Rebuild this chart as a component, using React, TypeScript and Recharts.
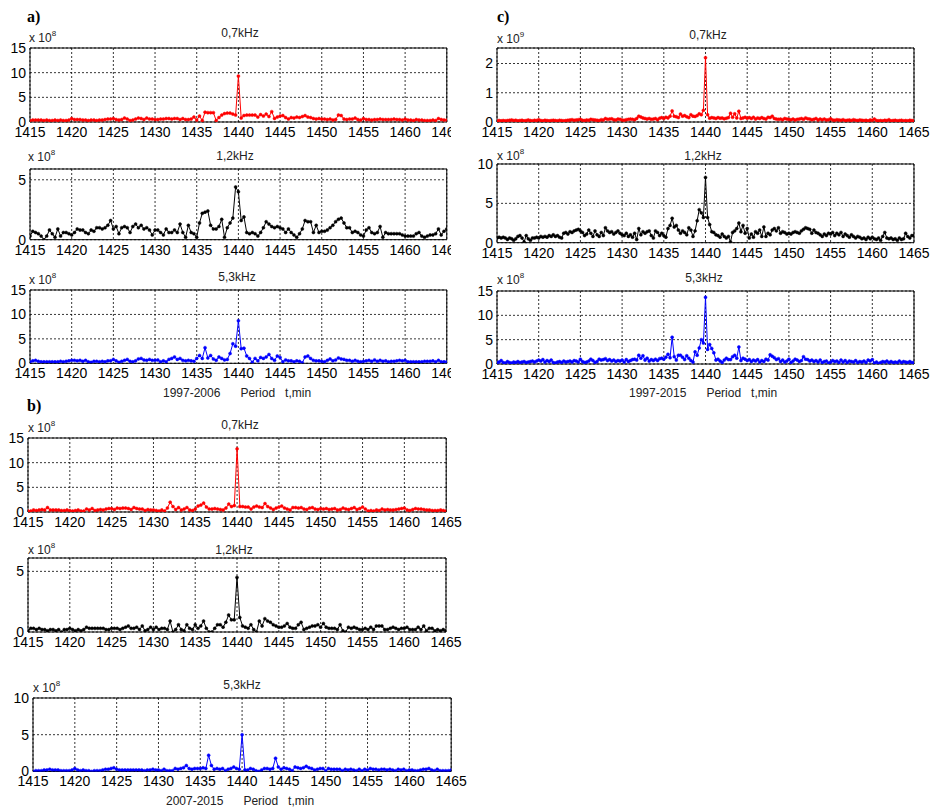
import React from "react";
import { LineChart, Line, XAxis, YAxis, CartesianGrid, ReferenceLine } from "recharts";

const FONT = "'Liberation Sans', Arial, sans-serif";

// x axis: period in minutes
const periodTicks = [1415, 1420, 1425, 1430, 1435, 1440, 1445, 1450, 1455, 1460, 1465];

// ---- a) 1997-2006, values in 1e8 (3 points per minute)
const a07 = [
  0.3, 0.4, 0.4, 0.4, 0.4, 0.3, 0.4, 0.3, 0.3, 0.4, 0.3, 0.4, 0.3, 0.3, 0.4,
  0.7, 0.5, 0.5, 0.5, 0.4, 0.4, 0.3, 0.4, 0.4, 0.3, 0.4, 0.4, 0.5, 0.6, 0.6,
  0.7, 0.5, 0.4, 0.5, 0.8, 0.6, 0.3, 0.4, 0.6, 0.8, 0.7, 0.5, 0.8, 0.6, 0.6,
  0.5, 0.5, 0.6, 0.6, 0.7, 0.7, 0.6, 0.7, 0.7, 0.5, 0.7, 0.5, 0.5, 0.6, 1.0,
  0.4, 1.2, 0.3, 2.0, 1.9, 1.9, 1.9, 0.3, 0.9, 1.4, 1.7, 1.8, 1.8, 1.6, 1.4,
  9.3, 0.8, 1.3, 1.4, 1.4, 1.4, 1.4, 1.0, 1.5, 1.2, 1.6, 1.1, 2.1, 0.7, 1.0,
  1.2, 1.3, 0.9, 0.6, 0.9, 0.8, 1.0, 0.9, 1.1, 1.3, 1.0, 0.9, 0.7, 0.6, 0.7,
  0.6, 0.6, 0.5, 0.6, 0.4, 0.5, 1.4, 1.3, 0.6, 0.5, 0.6, 0.6, 0.8, 0.5, 0.4,
  0.7, 0.5, 0.5, 0.4, 0.5, 0.5, 0.6, 0.5, 0.5, 0.5, 0.5, 0.6, 0.5, 0.5, 0.4,
  0.6, 0.4, 0.4, 0.3, 0.5, 0.4, 0.4, 0.3, 0.3, 0.3, 0.4, 0.3, 0.7, 0.5, 0.4,
  0.4,
];
const a12 = [
  0.3, 0.7, 0.6, 0.5, 0.3, 0.0, 0.3, 0.8, 0.5, 0.2, 0.9, 0.3, 0.6, 0.6, 0.5,
  0.4, 0.6, 0.9, 0.8, 0.8, 0.6, 0.5, 0.8, 0.7, 1.0, 1.0, 0.9, 1.0, 1.2, 1.6,
  0.9, 1.1, 0.5, 1.0, 1.1, 1.0, 0.6, 1.1, 1.3, 1.0, 1.2, 0.9, 1.0, 0.8, 0.4,
  0.8, 0.8, 0.6, 0.4, 0.9, 0.6, 0.6, 0.8, 0.6, 1.3, 0.6, 0.2, 1.2, 0.6, 0.5,
  0.2, 1.4, 2.2, 2.3, 2.4, 1.2, 0.9, 0.9, 1.1, 1.7, 0.2, 1.0, 1.4, 1.8, 4.4,
  4.0, 1.6, 1.9, 0.6, 0.5, 0.6, 0.5, 0.3, 0.6, 1.0, 1.5, 1.3, 1.1, 1.0, 1.1,
  1.0, 0.9, 0.6, 0.9, 0.6, 0.4, 0.2, 0.5, 0.9, 1.6, 1.5, 1.5, 0.6, 1.2, 0.6,
  0.7, 0.7, 0.8, 1.0, 1.2, 1.5, 1.7, 1.8, 1.4, 1.0, 1.0, 0.6, 0.7, 0.6, 0.4,
  0.3, 0.8, 1.0, 0.6, 0.5, 0.6, 1.1, 0.2, 0.6, 0.5, 0.5, 0.5, 0.5, 0.5, 0.4,
  0.3, 0.3, 0.3, 0.3, 0.5, 0.6, 0.3, 0.2, 0.3, 0.4, 0.4, 0.5, 0.9, 0.4, 0.7,
  0.9,
];
const a53 = [
  0.3, 0.5, 0.6, 0.4, 0.3, 0.3, 0.3, 0.3, 0.3, 0.3, 0.3, 0.4, 0.3, 0.4, 0.5,
  0.6, 0.6, 0.5, 0.6, 0.4, 0.6, 0.3, 0.2, 0.4, 0.4, 0.3, 0.4, 0.3, 0.5, 0.5,
  0.8, 0.5, 0.2, 0.4, 0.6, 0.8, 0.4, 0.3, 0.5, 0.9, 1.0, 0.7, 0.6, 0.8, 0.6,
  0.6, 0.7, 0.3, 0.5, 0.3, 0.8, 1.0, 1.3, 0.8, 1.0, 0.6, 0.5, 0.6, 0.5, 0.4,
  1.0, 1.6, 1.0, 3.2, 1.1, 1.6, 0.9, 0.6, 1.3, 1.0, 0.7, 0.8, 2.0, 4.0, 3.5,
  8.7, 3.0, 3.1, 1.5, 1.0, 0.2, 1.0, 0.5, 1.2, 1.0, 1.3, 1.8, 1.0, 0.6, 1.5,
  1.2, 0.3, 0.7, 0.5, 0.5, 0.3, 0.5, 0.4, 0.1, 1.3, 1.5, 1.0, 0.6, 0.5, 0.5,
  0.4, 0.3, 0.6, 0.9, 0.5, 0.7, 1.1, 0.9, 0.8, 0.6, 0.6, 0.4, 0.6, 0.4, 0.3,
  0.4, 0.5, 0.6, 0.4, 0.7, 0.4, 0.6, 0.4, 0.5, 0.3, 0.4, 0.4, 0.5, 0.6, 0.5,
  0.6, 0.3, 0.3, 0.3, 0.3, 0.3, 0.3, 0.4, 0.4, 0.4, 0.5, 0.3, 0.6, 0.3, 0.3,
  0.3,
];

// ---- b) 2007-2015, values in 1e8
const b07 = [
  0.2, 0.2, 0.4, 0.3, 0.4, 0.5, 0.4, 0.9, 0.4, 0.4, 0.4, 0.4, 0.3, 0.3, 0.4,
  0.3, 0.2, 0.3, 0.4, 0.2, 0.2, 0.6, 0.4, 0.7, 0.3, 0.4, 0.5, 0.4, 0.6, 0.7,
  0.7, 0.5, 0.8, 0.7, 0.8, 0.8, 0.7, 0.5, 0.9, 0.7, 0.6, 0.6, 0.3, 0.5, 0.4,
  0.4, 0.3, 0.2, 0.4, 0.2, 0.8, 2.0, 1.1, 0.5, 0.9, 0.4, 0.6, 0.9, 0.4, 0.3,
  0.6, 1.2, 1.4, 1.8, 1.0, 0.6, 0.6, 0.7, 0.6, 0.5, 0.4, 0.8, 1.6, 1.1, 1.3,
  12.8, 1.1, 1.1, 1.0, 1.0, 0.6, 1.0, 1.2, 1.0, 0.9, 1.7, 1.1, 0.8, 0.5, 0.8,
  1.0, 1.2, 0.8, 0.6, 0.4, 0.9, 0.9, 0.8, 0.9, 0.6, 0.5, 0.8, 0.9, 0.6, 0.5,
  0.7, 0.6, 0.7, 0.5, 0.6, 0.7, 0.4, 0.5, 0.8, 0.6, 0.5, 0.7, 0.9, 0.5, 0.7,
  1.0, 0.6, 0.2, 0.3, 0.2, 0.4, 0.3, 0.6, 0.4, 0.5, 0.4, 0.4, 0.5, 0.6, 0.7,
  0.8, 0.4, 0.3, 0.5, 0.7, 0.6, 0.6, 0.5, 0.4, 0.4, 0.3, 0.3, 0.3, 0.4, 0.3,
  0.2,
];
const b12 = [
  0.1, 0.3, 0.3, 0.2, 0.3, 0.2, 0.2, 0.1, 0.2, 0.2, 0.1, 0.2, 0.0, 0.2, 0.2,
  0.3, 0.2, 0.1, 0.2, 0.1, 0.2, 0.4, 0.3, 0.3, 0.3, 0.3, 0.3, 0.3, 0.2, 0.2,
  0.3, 0.3, 0.3, 0.2, 0.3, 0.4, 0.5, 0.3, 0.3, 0.4, 0.2, 0.5, 0.1, 0.2, 0.4,
  0.2, 0.4, 0.2, 0.3, 0.3, 0.2, 0.9, 0.0, 0.2, 0.6, 0.2, 0.1, 0.6, 0.3, 0.2,
  0.6, 0.3, 0.5, 0.9, 0.3, 0.0, 0.0, 0.3, 0.6, 0.6, 0.4, 0.8, 1.4, 1.0, 1.0,
  4.5, 1.2, 0.5, 0.4, 0.3, 0.6, 0.2, 0.0, 0.9, 0.5, 1.1, 0.9, 0.8, 0.6, 0.5,
  0.4, 0.4, 0.5, 0.7, 0.4, 0.3, 0.3, 0.6, 0.8, 0.2, 0.3, 0.4, 0.5, 0.5, 0.6,
  0.4, 0.7, 0.4, 0.3, 0.3, 0.3, 0.2, 0.6, 0.1, 0.0, 0.4, 0.3, 0.4, 0.3, 0.2,
  0.2, 0.3, 0.2, 0.4, 0.2, 0.5, 0.5, 0.5, 0.2, 0.2, 0.3, 0.4, 0.3, 0.2, 0.3,
  0.3, 0.4, 0.2, 0.2, 0.2, 0.4, 0.2, 0.5, 0.1, 0.3, 0.3, 0.1, 0.2, 0.1, 0.2,
  0.1,
];
const b53 = [
  0.0, 0.1, 0.1, 0.1, 0.2, 0.2, 0.3, 0.2, 0.2, 0.2, 0.1, 0.1, 0.1, 0.1, 0.2,
  0.4, 0.2, 0.1, 0.2, 0.1, 0.1, 0.0, 0.1, 0.1, 0.1, 0.2, 0.3, 0.3, 0.4, 0.5,
  0.3, 0.2, 0.2, 0.2, 0.2, 0.2, 0.2, 0.2, 0.2, 0.2, 0.1, 0.2, 0.2, 0.3, 0.2,
  0.2, 0.1, 0.3, 0.1, 0.1, 0.1, 0.4, 0.3, 0.4, 0.5, 0.8, 0.4, 0.3, 0.4, 0.4,
  0.4, 0.5, 0.4, 2.2, 0.8, 0.3, 0.4, 0.3, 0.4, 0.1, 0.3, 0.4, 0.6, 0.4, 0.3,
  5.0, 0.2, 0.2, 0.4, 0.3, 0.1, 0.0, 0.2, 0.4, 0.4, 0.3, 0.4, 1.8, 0.6, 0.3,
  0.5, 0.4, 0.3, 0.1, 0.6, 0.5, 0.4, 0.5, 0.7, 0.5, 0.4, 0.2, 0.3, 0.4, 0.4,
  0.1, 0.4, 0.3, 0.3, 0.3, 0.3, 0.1, 0.3, 0.2, 0.3, 0.2, 0.1, 0.3, 0.1, 0.3,
  0.2, 0.4, 0.3, 0.3, 0.2, 0.3, 0.3, 0.2, 0.3, 0.2, 0.1, 0.3, 0.2, 0.3, 0.1,
  0.2, 0.2, 0.1, 0.1, 0.2, 0.3, 0.3, 0.4, 0.2, 0.1, 0.3, 0.1, 0.1, 0.1, 0.1,
  0.2,
];

// ---- c) 1997-2015 (4 points per minute); c07 in 1e9, others in 1e8
const c07 = [
  0.03, 0.05, 0.04, 0.05, 0.04, 0.05, 0.06, 0.07, 0.05, 0.06, 0.04, 0.05, 0.06, 0.04, 0.05, 0.07, 0.05, 0.04, 0.06, 0.05,
  0.08, 0.05, 0.04, 0.06, 0.05, 0.04, 0.05, 0.06, 0.05, 0.04, 0.06, 0.05, 0.04, 0.05, 0.06, 0.07, 0.08, 0.06, 0.07, 0.08,
  0.09, 0.06, 0.05, 0.07, 0.06, 0.09, 0.08, 0.07, 0.06, 0.05, 0.08, 0.07, 0.12, 0.09, 0.1, 0.11, 0.08, 0.07, 0.1, 0.09,
  0.07, 0.06, 0.08, 0.09, 0.1, 0.09, 0.08, 0.12, 0.2, 0.17, 0.14, 0.12, 0.1, 0.12, 0.09, 0.1, 0.12, 0.08, 0.13, 0.15,
  0.12, 0.16, 0.14, 0.2, 0.38, 0.2, 0.18, 0.15, 0.27, 0.2, 0.22, 0.18, 0.15, 0.25, 0.2, 0.19, 0.22, 0.28, 0.25, 0.4,
  2.2, 0.25, 0.13, 0.15, 0.14, 0.12, 0.15, 0.13, 0.14, 0.11, 0.13, 0.15, 0.3, 0.16, 0.28, 0.14, 0.37, 0.12, 0.14, 0.16,
  0.13, 0.15, 0.12, 0.16, 0.1, 0.14, 0.12, 0.15, 0.12, 0.1, 0.16, 0.15, 0.2, 0.12, 0.1, 0.09, 0.1, 0.08, 0.12, 0.1,
  0.09, 0.08, 0.1, 0.07, 0.09, 0.1, 0.12, 0.09, 0.14, 0.11, 0.1, 0.08, 0.09, 0.12, 0.07, 0.1, 0.08, 0.1, 0.07, 0.08,
  0.11, 0.07, 0.06, 0.08, 0.07, 0.06, 0.08, 0.05, 0.06, 0.07, 0.05, 0.08, 0.06, 0.05, 0.07, 0.06, 0.05, 0.06, 0.04, 0.07,
  0.06, 0.1, 0.05, 0.04, 0.05, 0.04, 0.06, 0.05, 0.08, 0.04, 0.05, 0.06, 0.04, 0.05, 0.06, 0.04, 0.05, 0.04, 0.06, 0.05,
  0.04,
];
const c12 = [
  0.6, 0.7, 0.6, 0.7, 0.6, 0.4, 0.6, 0.5, 0.3, 0.5, 0.8, 0.9, 0.6, 0.1, 0.9, 0.5, 0.3, 0.6, 0.6, 0.7,
  0.6, 0.8, 0.7, 0.8, 0.7, 0.9, 0.8, 1.0, 0.8, 0.9, 0.7, 0.6, 1.2, 1.3, 1.1, 1.4, 1.3, 1.5, 1.6, 1.7,
  1.5, 1.3, 0.9, 1.1, 1.6, 1.2, 0.8, 1.5, 1.0, 0.8, 1.3, 0.9, 1.9, 1.5, 1.3, 1.4, 1.1, 1.3, 1.5, 1.2,
  1.0, 0.9, 1.2, 0.8, 1.0, 0.7, 1.2, 0.4, 1.8, 1.0, 1.4, 1.2, 1.4, 1.5, 0.9, 0.6, 1.5, 1.3, 0.9, 1.2,
  0.9, 0.7, 1.8, 2.2, 3.1, 2.0, 2.2, 1.6, 1.2, 1.5, 1.3, 1.0, 1.9, 1.6, 0.8, 1.5, 2.8, 4.2, 3.8, 3.2,
  8.3, 3.2, 2.3, 1.4, 1.3, 1.0, 0.9, 0.7, 1.1, 0.8, 0.6, 0.8, 0.1, 1.3, 1.5, 1.8, 2.5, 1.4, 2.2, 1.2,
  1.8, 0.6, 1.1, 0.7, 1.4, 1.2, 1.6, 0.8, 2.0, 0.8, 1.2, 1.0, 1.6, 1.8, 1.5, 1.9, 1.2, 1.4, 1.3, 1.1,
  1.2, 1.1, 1.3, 1.4, 1.3, 1.2, 1.5, 1.7, 1.9, 1.8, 1.7, 1.2, 1.6, 1.3, 1.2, 1.0, 0.8, 1.1, 0.9, 1.2,
  1.1, 1.3, 0.9, 1.2, 1.0, 1.3, 0.8, 1.1, 0.9, 0.7, 1.0, 0.8, 0.6, 0.8, 0.7, 0.5, 0.6, 0.4, 0.7, 0.5,
  0.7, 0.5, 0.4, 0.6, 0.3, 0.8, 1.3, 0.6, 0.5, 0.6, 0.4, 0.5, 0.3, 0.6, 0.4, 0.5, 1.2, 0.8, 0.6, 0.9,
  0.9,
];
const c53 = [
  0.3, 0.4, 0.7, 0.3, 0.2, 0.5, 0.3, 0.2, 0.4, 0.3, 0.5, 0.3, 0.4, 0.5, 0.3, 0.4, 0.5, 0.6, 0.4, 0.6,
  0.8, 0.6, 0.9, 0.4, 0.7, 0.5, 0.8, 0.3, 0.2, 0.4, 0.5, 0.3, 0.6, 0.4, 0.5, 0.6, 0.4, 0.7, 0.6, 0.4,
  1.0, 0.5, 0.3, 0.4, 0.6, 1.0, 0.7, 0.3, 0.5, 1.0, 0.8, 0.9, 1.1, 0.7, 0.9, 0.6, 0.8, 0.5, 0.7, 0.6,
  0.8, 0.4, 0.9, 0.5, 0.7, 0.9, 1.0, 0.8, 1.8, 1.2, 1.7, 0.8, 1.2, 0.6, 0.9, 0.7, 1.0, 0.7, 1.1, 1.2,
  1.0, 1.4, 2.0, 1.3, 5.5, 1.5, 0.8, 1.8, 1.8, 1.4, 0.9, 1.7, 1.2, 0.7, 0.4, 2.5, 1.8, 3.3, 5.0, 4.3,
  13.7, 3.0, 4.0, 3.2, 2.3, 0.8, 1.0, 0.6, 0.3, 0.8, 1.2, 0.9, 0.9, 1.5, 1.8, 1.2, 3.5, 0.7, 1.2, 1.0,
  0.7, 0.9, 0.5, 0.8, 0.6, 0.9, 0.4, 0.7, 0.5, 1.0, 0.8, 1.9, 1.6, 1.3, 0.9, 1.1, 0.5, 0.8, 0.4, 0.6,
  1.0, 0.3, 0.6, 1.0, 0.8, 0.5, 0.7, 1.5, 1.0, 0.9, 0.6, 0.8, 0.5, 0.7, 0.4, 0.8, 0.3, 0.5, 0.6, 0.2,
  0.4, 0.7, 0.5, 0.6, 0.3, 0.8, 0.4, 0.7, 0.3, 0.6, 0.5, 0.4, 0.7, 0.3, 0.5, 0.4, 0.6, 0.3, 0.8, 0.6,
  0.9, 0.2, 0.4, 0.1, 0.3, 0.5, 0.4, 0.6, 0.3, 0.5, 0.3, 0.4, 0.3, 0.6, 0.3, 0.5, 0.4, 0.3, 0.5, 0.3,
  0.3,
];

// spread the values evenly over 1415..1465
function toRows(values: number[]) {
  const step = 50 / (values.length - 1);
  return values.map((v, i) => ({ period: 1415 + i * step, value: v }));
}

type PanelProps = {
  left: number;
  top: number;
  plotW: number;
  plotH: number;
  values: number[];
  color: string;
  yMax: number;
  yTicks: number[];
};

const padL = 34;
const padT = 6;
const padR = 30;
const padB = 26;

function Panel({ left, top, plotW, plotH, values, color, yMax, yTicks }: PanelProps) {
  const rows = toRows(values);
  return (
    <div style={{ position: "absolute", left: left - padL, top: top - padT }}>
      <LineChart
        width={plotW + padL + padR}
        height={plotH + padT + padB}
        data={rows}
        margin={{ top: padT, right: padR, left: 0, bottom: 0 }}
      >
        <CartesianGrid stroke="#000" strokeDasharray="2 2" strokeWidth={0.8} />
        <XAxis
          dataKey="period"
          type="number"
          domain={[1415, 1465]}
          ticks={periodTicks}
          interval={0}
          height={padB}
          tickLine={false}
          tickSize={2}
          tickMargin={3}
          axisLine={{ stroke: "#000" }}
          tick={{ fontSize: 14, fill: "#000", fontFamily: FONT }}
          allowDataOverflow
        />
        <YAxis
          type="number"
          domain={[0, yMax]}
          ticks={yTicks}
          interval={0}
          width={padL}
          tickLine={false}
          tickSize={2}
          tickMargin={2}
          axisLine={{ stroke: "#000" }}
          tick={{ fontSize: 14, fill: "#000", fontFamily: FONT }}
          allowDataOverflow
        />
        <ReferenceLine y={yMax} stroke="#000" />
        <ReferenceLine x={1465} stroke="#000" />
        <Line
          type="linear"
          dataKey="value"
          stroke={color}
          strokeWidth={1}
          dot={{ r: 1.5, fill: color, stroke: color, strokeWidth: 0.5 }}
          isAnimationActive={false}
        />
      </LineChart>
    </div>
  );
}

const textStyle: React.CSSProperties = {
  position: "absolute",
  fontFamily: FONT,
  fontSize: 12,
  lineHeight: "12px",
  color: "#222",
  whiteSpace: "pre",
};

function Title({ cx, cy, text }: { cx: number; cy: number; text: string }) {
  return (
    <div style={{ ...textStyle, left: cx - 50, top: cy - 6, width: 100, textAlign: "center" }}>{text}</div>
  );
}

function Exponent({ x, cy, power }: { x: number; cy: number; power: number }) {
  return (
    <div style={{ ...textStyle, left: x, top: cy - 6 }}>
      x 10<span style={{ fontSize: 8, position: "relative", top: -6 }}>{power}</span>
    </div>
  );
}

function Letter({ x, y, text }: { x: number; y: number; text: string }) {
  return (
    <div
      style={{
        position: "absolute",
        left: x,
        top: y,
        fontFamily: "'Liberation Serif', 'Times New Roman', serif",
        fontWeight: "bold",
        fontSize: 16,
        lineHeight: "16px",
      }}
    >
      {text}
    </div>
  );
}

export default function App() {
  return (
    <div style={{ position: "absolute", left: 0, top: 0, width: 930, height: 807, background: "#fff", overflow: "hidden" }}>
      {/* a) panels are cropped on the right in the original */}
      <div style={{ position: "absolute", left: 0, top: 0, width: 451, height: 400, overflow: "hidden" }}>
        <Panel left={29.5} top={47.7} plotW={416.8} plotH={74} values={a07} color="#ff0000" yMax={15} yTicks={[0, 5, 10, 15]} />
        <Panel left={29.5} top={169.3} plotW={416.8} plotH={70.7} values={a12} color="#000000" yMax={5.9} yTicks={[0, 5]} />
        <Panel left={29.5} top={290} plotW={416.8} plotH={73.3} values={a53} color="#0000ff" yMax={15} yTicks={[0, 5, 10, 15]} />
      </div>
      <Panel left={28.3} top={437.7} plotW={418.2} plotH={74} values={b07} color="#ff0000" yMax={15} yTicks={[0, 5, 10, 15]} />
      <Panel left={28.3} top={558.3} plotW={418} plotH={74} values={b12} color="#000000" yMax={6.1} yTicks={[0, 5]} />
      <Panel left={33.3} top={698.3} plotW={418.2} plotH={73.4} values={b53} color="#0000ff" yMax={10} yTicks={[0, 5, 10]} />
      <Panel left={497.3} top={47.7} plotW={417} plotH={74} values={c07} color="#ff0000" yMax={2.53} yTicks={[0, 1, 2]} />
      <Panel left={497.3} top={164} plotW={417} plotH={78.7} values={c12} color="#000000" yMax={10} yTicks={[0, 5, 10]} />
      <Panel left={497.3} top={291} plotW={417} plotH={73} values={c53} color="#0000ff" yMax={15} yTicks={[0, 5, 10, 15]} />

      <Letter x={27} y={9} text="a)" />
      <Letter x={27} y={398} text="b)" />
      <Letter x={497} y={9} text="c)" />

      <Title cx={240} cy={33} text="0,7kHz" />
      <Title cx={235} cy={156} text="1,2kHz" />
      <Title cx={237} cy={277} text="5,3kHz" />
      <Title cx={240} cy={425} text="0,7kHz" />
      <Title cx={234} cy={550} text="1,2kHz" />
      <Title cx={242} cy={685} text="5,3kHz" />
      <Title cx={708} cy={35} text="0,7kHz" />
      <Title cx={703} cy={156} text="1,2kHz" />
      <Title cx={704} cy={278} text="5,3kHz" />

      <Exponent x={29} cy={38} power={8} />
      <Exponent x={28} cy={157} power={8} />
      <Exponent x={29} cy={280} power={8} />
      <Exponent x={28} cy={428} power={8} />
      <Exponent x={28} cy={550} power={8} />
      <Exponent x={33} cy={688} power={8} />
      <Exponent x={497} cy={39} power={9} />
      <Exponent x={497} cy={156} power={8} />
      <Exponent x={497} cy={280} power={8} />

      <div style={{ ...textStyle, left: 163, top: 387 }}>{"1997-2006      Period   t,min"}</div>
      <div style={{ ...textStyle, left: 166, top: 795 }}>{"2007-2015      Period   t,min"}</div>
      <div style={{ ...textStyle, left: 629, top: 387 }}>{"1997-2015      Period   t,min"}</div>
    </div>
  );
}
